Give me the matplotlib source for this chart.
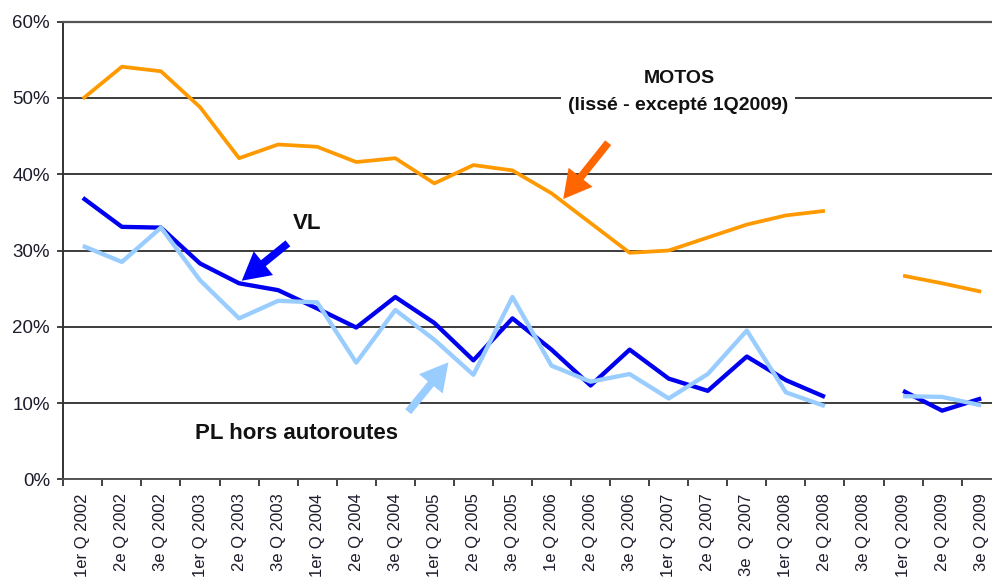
import numpy as np
import matplotlib
matplotlib.use("Agg")
import matplotlib.pyplot as plt

plt.rcParams['font.family'] = ['Liberation Sans', 'DejaVu Sans']

categories = ["1er Q 2002", "2e Q 2002", "3e Q 2002",
              "1er Q 2003", "2e Q 2003", "3e Q 2003",
              "1er Q 2004", "2e Q 2004", "3e Q 2004",
              "1er Q 2005", "2e Q 2005", "3e Q 2005",
              "1e Q 2006", "2e Q 2006", "3e Q 2006",
              "1er Q 2007", "2e Q 2007", "3e  Q 2007",
              "1er Q 2008", "2e Q 2008", "3e Q 2008",
              "1er Q 2009", "2e Q 2009", "3e Q 2009"]

nan = np.nan
motos = [49.9, 54.1, 53.5, 48.8, 42.1, 43.9, 43.6, 41.6, 42.1, 38.8, 41.2, 40.5,
         37.5, 33.6, 29.7, 30.0, 31.7, 33.4, 34.6, 35.2, nan, 26.7, 25.7, 24.6]
vl = [36.9, 33.1, 33.0, 28.3, 25.7, 24.8, 22.4, 19.9, 23.9, 20.5, 15.6, 21.1,
      17.0, 12.3, 17.0, 13.2, 11.6, 16.1, 13.0, 10.8, nan, 11.6, 9.0, 10.6]
pl = [30.6, 28.5, 33.0, 26.1, 21.1, 23.4, 23.2, 15.3, 22.2, 18.3, 13.7, 23.9,
      14.9, 12.8, 13.8, 10.6, 13.8, 19.5, 11.4, 9.6, nan, 10.9, 10.8, 9.7]

yticks = [0, 10, 20, 30, 40, 50, 60]

W, H = 992, 577
fig = plt.figure(figsize=(W / 100, H / 100), dpi=100)
left, right, top, bottom = 63.3, 1000.7, 21.7, 479.3
ax = fig.add_axes([left / W, 1 - bottom / H, (right - left) / W, (bottom - top) / H])

x = np.arange(len(categories))
ax.plot(x, motos, color='#FF9900', lw=2.7, solid_capstyle='butt', zorder=3)
ax.plot(x, vl, color='#0000EE', lw=3.1, solid_capstyle='butt', zorder=4)
ax.plot(x, pl, color='#99CCFF', lw=3.1, solid_capstyle='butt', zorder=5)

ax.set_xlim(-0.5, len(categories) - 0.5)
ax.set_ylim(0, 60)
ax.set_yticks(yticks)
ax.set_yticklabels([f"{v}%" for v in yticks], fontsize=13.5, color='#1c1c2c')
ax.set_xticks(x)
ax.set_xticklabels(categories, rotation=90, fontsize=12, color='#1c1c2c', va='top', ha='center')
ax.set_xticks(np.arange(-0.5, len(categories) + 0.5, 1), minor=True)
ax.tick_params(axis='x', which='major', length=0, pad=10)
ax.tick_params(axis='x', which='minor', length=5, width=1.3, color='#333333')
ax.tick_params(axis='y', length=4.5, width=1.3, color='#333333', pad=5)

ax.yaxis.grid(True, color='#3c3c3c', lw=1.4)
ax.set_axisbelow(True)
ax.spines['right'].set_visible(False)
ax.spines['top'].set_color('#555555')
ax.spines['top'].set_linewidth(1.6)
ax.spines['left'].set_color('#333333')
ax.spines['left'].set_linewidth(1.4)
ax.spines['bottom'].set_color('#555555')
ax.spines['bottom'].set_linewidth(1.4)

# Annotations
ax.text(15.28, 52.6, "MOTOS", fontsize=14, fontweight='bold', ha='center', va='center',
        color='#111111', zorder=6)
ax.text(15.24, 49.0, "(lissé - excepté 1Q2009)", fontsize=14, fontweight='bold', ha='center',
        va='center', color='#111111', zorder=6,
        bbox=dict(facecolor='white', edgecolor='none', pad=5))
ax.text(5.75, 33.6, "VL", fontsize=16, fontweight='bold', ha='center', va='center',
        color='#111111', zorder=6)
ax.text(5.47, 6.07, "PL hors autoroutes", fontsize=16, fontweight='bold', ha='center',
        va='center', color='#111111', zorder=6)

def arrow(tail, tip, color):
    ax.annotate('', xy=tip, xytext=tail,
                arrowprops=dict(width=5.5, headwidth=22, headlength=20, color=color,
                                shrink=0.0, lw=0),
                zorder=7)

arrow((5.25, 30.94), (4.07, 26.04), '#0000FF')
arrow((13.45, 44.13), (12.30, 36.75), '#FF6600')
arrow((8.33, 8.86), (9.36, 15.34), '#99CCFF')

fig.savefig("out.png", dpi=100)
